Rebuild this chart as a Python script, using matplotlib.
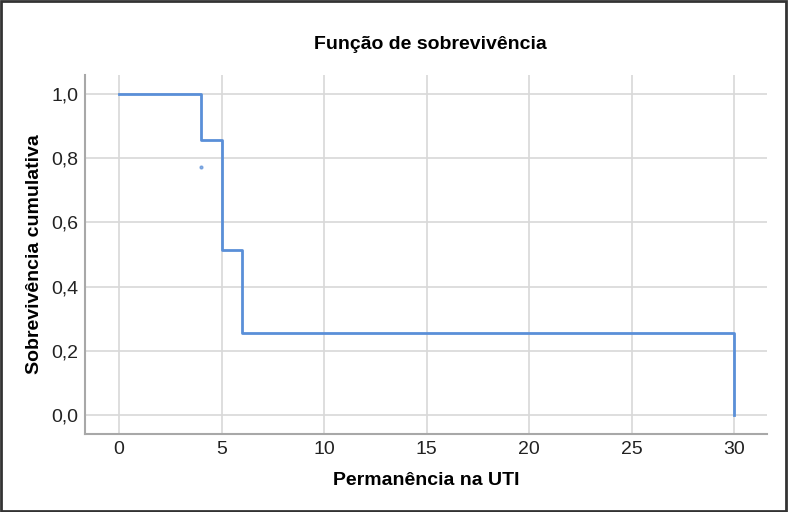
import matplotlib.pyplot as plt
from matplotlib.patches import Rectangle

# Dados (Kaplan-Meier)
tempos = [0, 4, 5, 6, 30]
sobrevivencia = [1.0, 0.857, 0.514, 0.257, 0.0]
censura_x = [4]
censura_y = [0.771]
xticks = [0, 5, 10, 15, 20, 25, 30]
yticks = [0.0, 0.2, 0.4, 0.6, 0.8, 1.0]

plt.rcParams['font.family'] = ['Liberation Sans', 'DejaVu Sans']

fig = plt.figure(figsize=(7.88, 5.12), dpi=100)
ax = fig.add_axes([0.1079, 0.1523, 0.8655, 0.7012])

cor = '#5a8fd8'
ax.step(tempos, sobrevivencia, where='post', color=cor, linewidth=2, zorder=3)
ax.plot(censura_x, censura_y, 'o', color=cor, markersize=2, alpha=0.7, zorder=3)

ax.set_xlim(-1.66, 31.6)
ax.set_ylim(-0.059, 1.059)
ax.set_xticks(xticks)
ax.set_yticks(yticks)
ax.set_yticklabels([f'{v:.1f}'.replace('.', ',') for v in yticks])
ax.tick_params(length=0, labelsize=14, colors='#222222', pad=5)
ax.grid(True, color='#d8d8d8', linewidth=1.2)
ax.set_axisbelow(True)
for s in ['top', 'right']:
    ax.spines[s].set_visible(False)
for s in ['left', 'bottom']:
    ax.spines[s].set_color('#a8a8a8')
    ax.spines[s].set_linewidth(1.5)

fonte = ['Liberation Sans Narrow', 'Liberation Sans', 'DejaVu Sans']
ax.set_xlabel('Permanência na UTI', fontsize=14, fontweight='bold', family=fonte, labelpad=10)
ax.set_ylabel('Sobrevivência cumulativa', fontsize=14, fontweight='bold', family=fonte, labelpad=6)
fig.text(0.546, 0.914, 'Função de sobrevivência', fontsize=14, fontweight='bold',
         family=fonte, ha='center', va='center')

fig.patches.append(Rectangle((0.001, 0.002), 0.997, 0.996, transform=fig.transFigure,
                             fill=False, edgecolor='#333333', linewidth=2))

fig.savefig('out.png', dpi=100)
